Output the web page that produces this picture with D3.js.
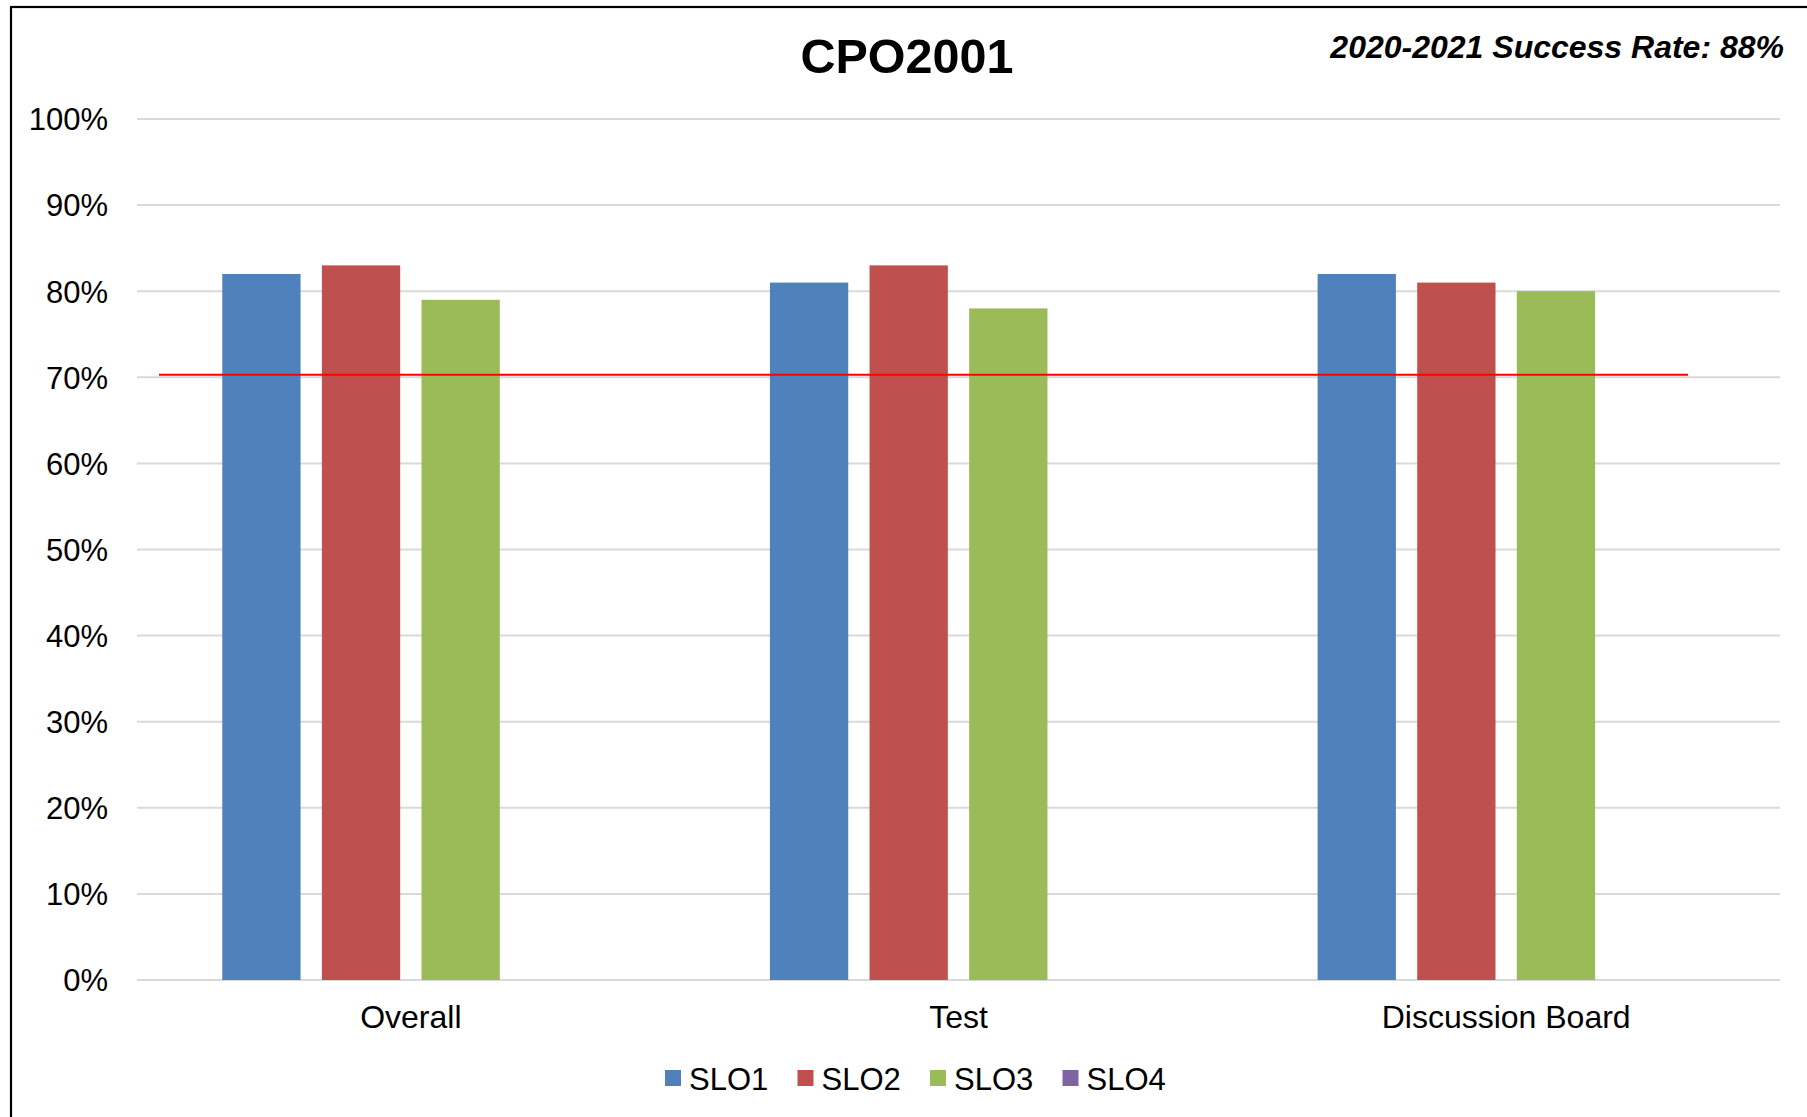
<!DOCTYPE html>
<html>
<head>
<meta charset="utf-8">
<script src="https://cdn.jsdelivr.net/npm/d3@7"></script>
<style>
  html, body { margin: 0; padding: 0; background: #fff; }
  svg { display: block; font-family: "Liberation Sans", Arial, sans-serif; }
</style>
</head>
<body>
<svg id="chart" width="1807" height="1117"></svg>
<script>
// ---- data ----
const categories = ["Overall", "Test", "Discussion Board"];
const seriesNames = ["SLO1", "SLO2", "SLO3", "SLO4"];
const slo1 = [0.82, 0.81, 0.82];
const slo2 = [0.83, 0.83, 0.81];
const slo3 = [0.79, 0.78, 0.80];
const slo4 = [null, null, null];
const seriesColors = ["#4F81BD", "#C0504D", "#9BBB59", "#8064A2"];
const yTicks = [0, 0.1, 0.2, 0.3, 0.4, 0.5, 0.6, 0.7, 0.8, 0.9, 1.0];
const targetValue = 0.703;
const titleText = "CPO2001";
const subtitleText = "2020-2021 Success Rate: 88%";

const seriesValues = [slo1, slo2, slo3, slo4];

// ---- layout ----
const svg = d3.select("#chart");
const plot = { left: 137, right: 1780, top: 119, bottom: 980 };

// outer frame (clipped by the page on the right/bottom)
svg.append("rect")
  .attr("x", 11).attr("y", 7)
  .attr("width", 1830).attr("height", 1140)
  .attr("fill", "none").attr("stroke", "#000").attr("stroke-width", 2.2);

const y = d3.scaleLinear().domain([0, 1]).range([plot.bottom, plot.top]);
const x0 = d3.scaleBand().domain(categories).range([plot.left, plot.right]).padding(0);
const x1 = d3.scaleBand().domain(seriesNames)
  .range([0, x0.bandwidth()])
  .paddingInner(0.214).paddingOuter(0.856);

// gridlines
svg.append("g")
  .selectAll("line").data(yTicks).join("line")
  .attr("x1", plot.left).attr("x2", plot.right)
  .attr("y1", d => y(d)).attr("y2", d => y(d))
  .attr("stroke", "#d9d9d9").attr("stroke-width", 2);

// y axis labels via d3 axis
const yAxis = d3.axisLeft(y).tickValues(yTicks).tickFormat(d3.format(".0%")).tickSize(0).tickPadding(0);
const yg = svg.append("g").attr("transform", "translate(108,0)").call(yAxis);
yg.select(".domain").remove();
yg.selectAll("text")
  .attr("font-family", "Liberation Sans, Arial, sans-serif")
  .attr("font-size", 31).attr("fill", "#000").attr("dy", "0.35em");

// bars
const groups = svg.append("g").selectAll("g").data(categories).join("g")
  .attr("transform", d => `translate(${x0(d)},0)`);
groups.selectAll("rect")
  .data((c, ci) => seriesNames.map((s, si) => ({ s, si, v: seriesValues[si][ci] })).filter(d => d.v != null))
  .join("rect")
  .attr("x", d => x1(d.s))
  .attr("width", x1.bandwidth())
  .attr("y", d => y(d.v))
  .attr("height", d => y(0) - y(d.v))
  .attr("fill", d => seriesColors[d.si]);

// target line
svg.append("line")
  .attr("x1", plot.left + 22).attr("x2", plot.right - 92)
  .attr("y1", y(targetValue)).attr("y2", y(targetValue))
  .attr("stroke", "#FF0000").attr("stroke-width", 2);

// x axis labels
const xAxis = d3.axisBottom(x0).tickSize(0).tickPadding(0);
const xg = svg.append("g").attr("transform", "translate(0,1028)").call(xAxis);
xg.select(".domain").remove();
xg.selectAll("text")
  .attr("font-family", "Liberation Sans, Arial, sans-serif")
  .attr("font-size", 32).attr("fill", "#000").attr("dy", 0).attr("y", 0);

// title
svg.append("text")
  .attr("x", 907).attr("y", 73)
  .attr("text-anchor", "middle")
  .attr("font-size", 48.5).attr("font-weight", "bold").attr("fill", "#000")
  .text(titleText);

svg.append("text")
  .attr("x", 1784).attr("y", 58)
  .attr("text-anchor", "end")
  .attr("font-size", 32).attr("font-weight", "bold").attr("font-style", "italic").attr("fill", "#000")
  .text(subtitleText);

// legend
const legend = svg.append("g").attr("transform", "translate(665,0)");
const li = legend.selectAll("g").data(seriesNames).join("g")
  .attr("transform", (d, i) => `translate(${i * 132.5},0)`);
li.append("rect").attr("x", 0).attr("y", 1070).attr("width", 16).attr("height", 16)
  .attr("fill", (d, i) => seriesColors[i]);
li.append("text").attr("x", 24).attr("y", 1090)
  .attr("font-size", 31).attr("fill", "#000").text(d => d);
</script>
</body>
</html>
